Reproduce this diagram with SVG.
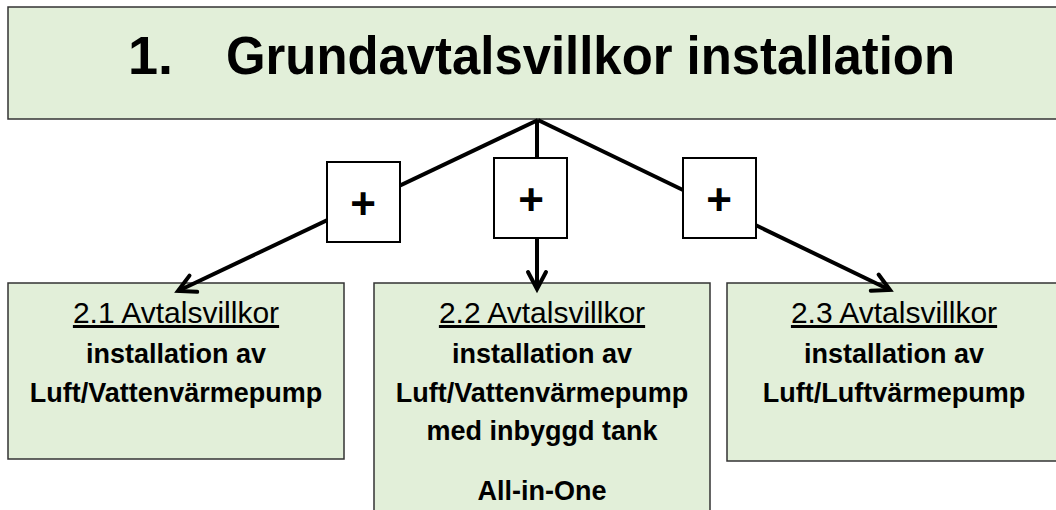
<svg xmlns="http://www.w3.org/2000/svg" width="1056" height="510" viewBox="0 0 1056 510">
<defs>
<style>
.box{fill:#e2efd9;stroke:#333;stroke-width:1.5}
.plus{fill:#fff;stroke:#000;stroke-width:2}
.conn{stroke:#000;stroke-width:4;fill:none;marker-end:url(#arr)}
.t{font-family:"Liberation Sans",Arial,sans-serif;fill:#000;text-anchor:middle}
.h{font-size:30px;text-decoration:underline}
.b{font-size:27px;font-weight:bold}
.title{font-family:"Liberation Sans",Arial,sans-serif;font-size:54px;font-weight:bold;fill:#000}
.pl{font-family:"Liberation Sans",Arial,sans-serif;font-size:44px;font-weight:bold;text-anchor:middle}
</style>
<marker id="arr" markerUnits="userSpaceOnUse" markerWidth="40" markerHeight="40" refX="0" refY="0" viewBox="-20 -20 40 40" orient="auto" overflow="visible">
<path d="M-17,-9 L0,0 L-17,9" fill="none" stroke="#000" stroke-width="4" stroke-linecap="round" stroke-linejoin="miter"/>
</marker>
</defs>
<rect width="1056" height="510" fill="#fff"/>
<g id="n1">
<rect class="box" x="8" y="7" width="1060" height="112"/>
<text class="title" x="128" y="74">1.</text>
<text class="title" x="226" y="74" textLength="729" lengthAdjust="spacingAndGlyphs">Grundavtalsvillkor installation</text>
</g>
<g id="n21">
<rect class="box" x="8" y="283" width="336" height="176"/>
<text class="t h" x="176" y="323">2.1 Avtalsvillkor</text>
<text class="t b" x="176" y="363">installation av</text>
<text class="t b" x="176" y="402">Luft/Vattenvärmepump</text>
</g>
<g id="n22">
<rect class="box" x="374" y="283" width="336" height="240"/>
<text class="t h" x="542" y="323">2.2 Avtalsvillkor</text>
<text class="t b" x="542" y="363">installation av</text>
<text class="t b" x="542" y="402">Luft/Vattenvärmepump</text>
<text class="t b" x="542" y="440">med inbyggd tank</text>
<text class="t b" x="542" y="500">All-in-One</text>
</g>
<g id="n23">
<rect class="box" x="727" y="283" width="336" height="178"/>
<text class="t h" x="894" y="323">2.3 Avtalsvillkor</text>
<text class="t b" x="894" y="363">installation av</text>
<text class="t b" x="894" y="402">Luft/Luftvärmepump</text>
</g>
<g id="connectors">
<line class="conn" x1="538" y1="120" x2="178" y2="291"/>
<line class="conn" x1="537" y1="120" x2="537" y2="289"/>
<line class="conn" x1="538" y1="120" x2="890" y2="290"/>
</g>
<g id="p1">
<rect class="plus" x="327" y="162" width="73" height="80"/>
<text class="pl" x="363" y="219">+</text>
</g>
<g id="p2">
<rect class="plus" x="494" y="158" width="73" height="80"/>
<text class="pl" x="531" y="215">+</text>
</g>
<g id="p3">
<rect class="plus" x="683" y="158" width="73" height="80"/>
<text class="pl" x="719" y="215">+</text>
</g>
</svg>
